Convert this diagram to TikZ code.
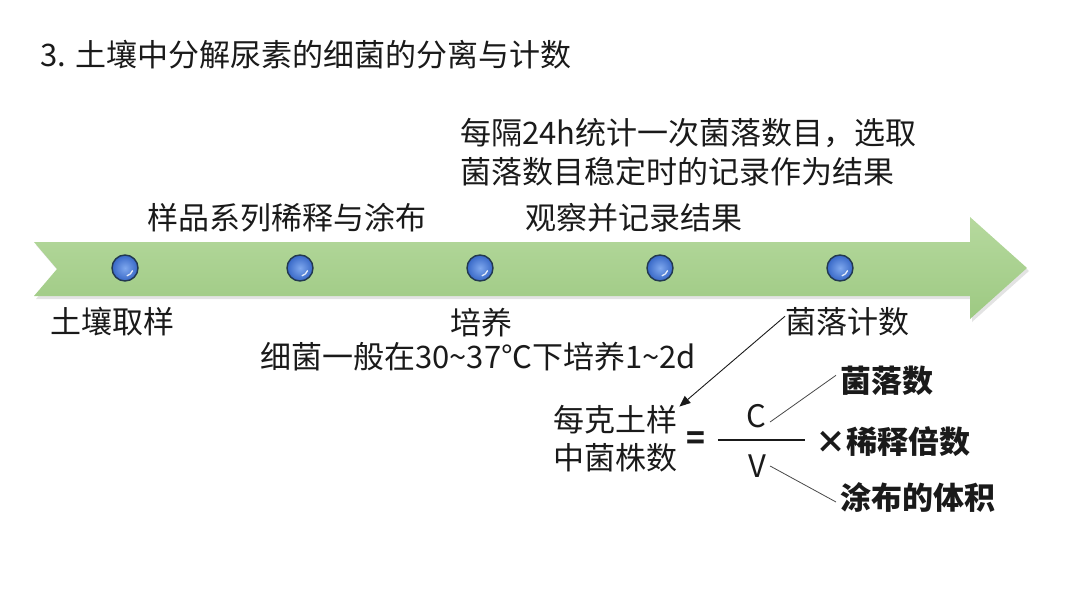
\documentclass[tikz,border=0pt]{standalone}
\usepackage{fontspec}
\setmainfont{Noto Sans CJK SC}
\usetikzlibrary{arrows.meta,shadows}
\definecolor{bandtop}{HTML}{B6D99E}
\definecolor{bandbot}{HTML}{9DC982}
\definecolor{ink}{HTML}{1A1A1A}
\definecolor{balledge}{HTML}{22384F}
\definecolor{ballin}{HTML}{7FA8EE}
\definecolor{ballout}{HTML}{3767C6}
\tikzset{
  txt/.style={anchor=base west, inner sep=0pt, text=ink, font=\fontsize{31}{35}\selectfont},
  bold/.style={txt, font=\fontsize{31}{35}\selectfont\bfseries},
  dot/.style={circle, minimum size=26pt, inner sep=0pt, inner color=ballin, outer color=ballout, draw=balledge, line width=1.4pt},
  leader/.style={draw=ink!80, line width=0.8pt},
}
\newcommand{\shine}[1]{\draw[white, opacity=0.85, line width=1.3pt, line cap=round] ([shift={(-20:8pt)}]#1.center) arc (-20:-75:8pt);}
\begin{document}
\begin{tikzpicture}[x=1pt,y=-1pt]
\useasboundingbox (0,0) rectangle (1080,608);
% title
\node[txt, font=\fontsize{31}{35}\selectfont] (title) at (40,66) {3. 土壤中分解尿素的细菌的分离与计数};
% green arrow band
\shade[top color=bandtop, bottom color=bandbot, drop shadow={opacity=0.22, shadow xshift=2pt, shadow yshift=-3pt}]
  (34,242) -- (970,242) -- (970,217) -- (1027,268) -- (970,319) -- (970,296) -- (34,296) -- (57,269) -- cycle;
% dots
\node[dot] (d1) at (125,268) {};
\node[dot] (d2) at (300,268) {};
\node[dot] (d3) at (480,268) {};
\node[dot] (d4) at (660,268) {};
\node[dot] (d5) at (840,268) {};
\shine{d1}\shine{d2}\shine{d3}\shine{d4}\shine{d5}
% step labels
\node[txt] (s2) at (147,229) {样品系列稀释与涂布};
\node[txt] (s4) at (525,229) {观察并记录结果};
\node[txt] (n4a) at (460,144) {每隔24h统计一次菌落数目，选取};
\node[txt] (n4b) at (460,183) {菌落数目稳定时的记录作为结果};
\node[txt] (s1) at (50,333) {土壤取样};
\node[txt] (s3) at (450,334) {培养};
\node[txt] (n3) at (260,368) {细菌一般在30\textasciitilde 37℃下培养1\textasciitilde 2d};
\node[txt] (s5) at (785,333) {菌落计数};
% formula
\node[txt] (f1) at (553,431) {每克土样};
\node[txt] (f2) at (553,469) {中菌株数};
\node[txt] (eq) at (686,449) {\textbf{=}};
\node[inner sep=0pt, minimum width=87pt] (bar) at (761.5,440) {};
\draw[ink, line width=1.2pt] (bar.west) -- (bar.east);
\node[txt, anchor=center] (C) at (756,416) {C};
\node[txt, anchor=center] (V) at (757,466) {V};
\node[bold] (mul) at (815,453) {×稀释倍数};
\node[bold] (jls) at (840,392) {菌落数};
\node[bold] (tbj) at (840,509) {涂布的体积};
% connectors
\draw[ink, line width=0.9pt, -{Triangle[length=11pt,width=9pt]}] ([yshift=5pt]s5.west) -- ([xshift=2pt,yshift=-2pt]f1.north east);
\draw[leader] ([xshift=4pt,yshift=-6pt]C.east) -- ([xshift=-4pt,yshift=5pt]jls.west);
\draw[leader] ([xshift=4pt]V.east) -- ([xshift=-4pt,yshift=-5pt]tbj.west);
\end{tikzpicture}
\end{document}
